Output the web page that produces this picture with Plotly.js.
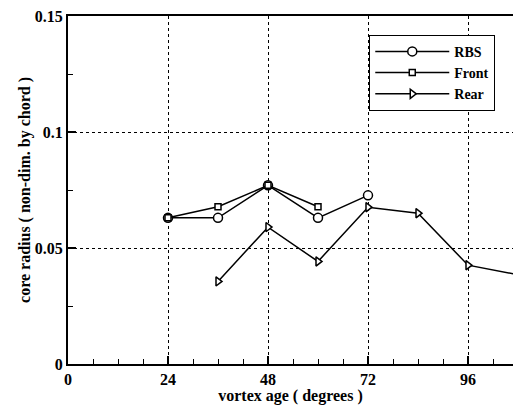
<!DOCTYPE html>
<html><head><meta charset="utf-8">
<script src="https://cdn.plot.ly/plotly-3.0.1.min.js"></script>
<style>html,body{margin:0;padding:0;background:#fff}#chart{width:513px;height:405px}</style>
</head><body><div id="chart"></div>
<script>
const rbsX = [24, 36, 48, 60, 72];
const rbsY = [0.063, 0.063, 0.077, 0.063, 0.0727];
const frontX = [24, 36, 48, 60];
const frontY = [0.063, 0.0678, 0.077, 0.0678];
const rearX = [36, 48, 60, 72, 84, 96, 108];
const rearY = [0.0356, 0.059, 0.0442, 0.0676, 0.065, 0.0426, 0.0385];
const xTicks = [0, 24, 48, 72, 96];
const yTicks = [0, 0.05, 0.1, 0.15];
const yTickText = ['0', '0.05', '0.1', '0.15'];

const font = {family: '"Liberation Serif", "Times New Roman", serif', color: '#000'};
function tr(name, x, y, sym, size) {
  return {x: x, y: y, name: name, type: 'scatter', mode: 'lines+markers',
    line: {color: '#000', width: 1.5},
    marker: {symbol: sym, size: size, color: '#fff', line: {color: '#000', width: 1.5}}};
}
const data = [
  tr('RBS', rbsX, rbsY, 'circle', 9),
  tr('Front', frontX, frontY, 'square', 6),
  tr('Rear', rearX, rearY, 'triangle-right', 8)
];
const layout = {
  width: 513, height: 405,
  margin: {l: 68, r: 0, t: 16, b: 41},
  paper_bgcolor: '#fff', plot_bgcolor: '#fff',
  font: Object.assign({size: 16, weight: 'bold'}, font),
  showlegend: true,
  legend: {x: 0.677, y: 0.946, xanchor: 'left', yanchor: 'top',
    bgcolor: '#fff', bordercolor: '#000', borderwidth: 1,
    font: Object.assign({size: 14, weight: 'bold'}, font), itemwidth: 74,
    tracegroupgap: 0},
  xaxis: {range: [0, 106.8], tickvals: xTicks, ticktext: xTicks.map(String),
    ticks: 'inside', ticklen: 8, tickwidth: 2, tickcolor: '#000',
    showline: true, linewidth: 2, linecolor: '#000', mirror: true,
    showgrid: true, gridcolor: '#000', griddash: 'dot', gridwidth: 1,
    zeroline: false, tickfont: Object.assign({size: 16, weight: 'bold'}, font),
    minor: {dtick: 6, tick0: 0, ticks: 'inside', ticklen: 5, tickwidth: 1, tickcolor: '#000', showgrid: false},
    title: {text: 'vortex age ( degrees )', font: Object.assign({size: 16, weight: 'bold'}, font), standoff: 4},
    automargin: false},
  yaxis: {range: [0, 0.15], tickvals: yTicks, ticktext: yTickText,
    ticks: 'inside', ticklen: 8, tickwidth: 2, tickcolor: '#000',
    showline: true, linewidth: 2, linecolor: '#000', mirror: false,
    showgrid: true, gridcolor: '#000', griddash: 'dot', gridwidth: 1,
    zeroline: false, tickfont: Object.assign({size: 16, weight: 'bold'}, font),
    minor: {dtick: 0.025, tick0: 0, ticks: 'inside', ticklen: 5, tickwidth: 1, tickcolor: '#000', showgrid: false},
    title: {text: 'core radius ( non-dim. by chord )', font: Object.assign({size: 16, weight: 'bold'}, font), standoff: 0},
    automargin: false}
};
Plotly.newPlot('chart', data, layout, {displayModeBar: false, staticPlot: true});
</script></body></html>
